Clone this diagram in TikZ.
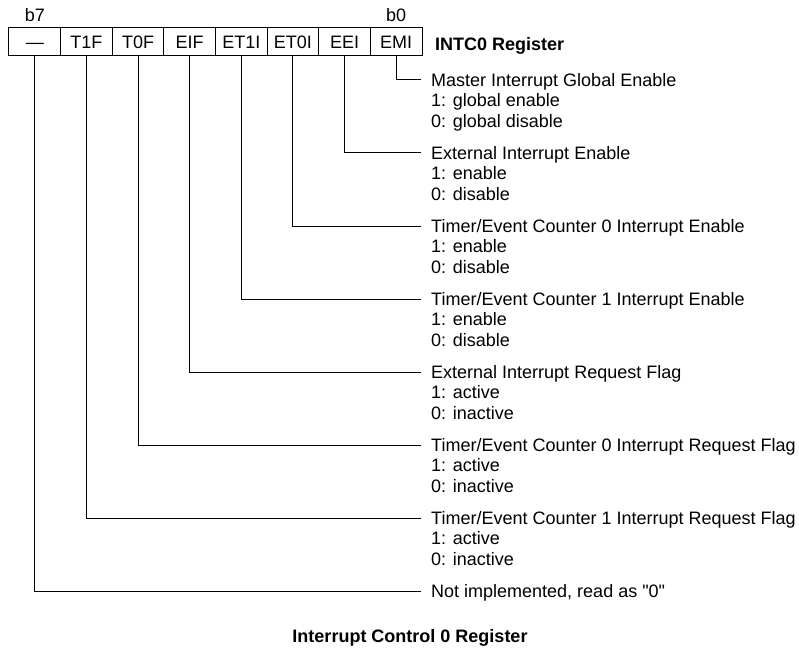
\documentclass[tikz,border=0pt]{standalone}
\usepackage{fontspec}
\setmainfont{Liberation Sans}[Ligatures=TeXOff]
\begin{document}
\begin{tikzpicture}[x=1pt,y=-1pt,
  every node/.style={font=\fontsize{18}{20.5}\selectfont, inner sep=0pt},
  boldtext/.style={font=\fontsize{18}{20.5}\selectfont\bfseries},
  bitbox/.style={draw, line width=1pt, minimum width=51.625pt, minimum height=28pt, text height=12.9pt, text depth=0pt},
  desc/.style={anchor=west, inner xsep=10pt, text height=12.9pt, text depth=0pt},
  val/.style={anchor=base west},
  conn/.style={line width=1pt}]
\useasboundingbox (0,0) rectangle (799,652);

% bit boxes
\node[bitbox] (bN)    at (34.81,42)  {—};
\node[bitbox] (bT1F)  at (86.44,42)  {T1F};
\node[bitbox] (bT0F)  at (138.06,42) {T0F};
\node[bitbox] (bEIF)  at (189.69,42) {EIF};
\node[bitbox] (bET1I) at (241.31,42) {ET1I};
\node[bitbox] (bET0I) at (292.94,42) {ET0I};
\node[bitbox] (bEEI)  at (344.56,42) {EEI};
\node[bitbox] (bEMI)  at (396.19,42) {EMI};

\node (lb7) at (34.81,15.5) {b7};
\node (lb0) at (396.19,15.5) {b0};
\node[boldtext, anchor=west, text height=12.9pt, text depth=0pt] (reg) at (435,44) {INTC0 Register};

% descriptions
\node[desc] (dEMI) at (421,80) {Master Interrupt Global Enable};
\node[val] (dEMIa) at (431,106.9) {1: global enable};
\node[val] (dEMIb) at (431,127.4) {0: global disable};

\node[desc] (dEEI) at (421,153) {External Interrupt Enable};
\node[val] (dEEIa) at (431,179.9) {1: enable};
\node[val] (dEEIb) at (431,200.4) {0: disable};

\node[desc] (dET0I) at (421,226) {Timer/Event Counter 0 Interrupt Enable};
\node[val] (dET0Ia) at (431,252.9) {1: enable};
\node[val] (dET0Ib) at (431,273.4) {0: disable};

\node[desc] (dET1I) at (421,299) {Timer/Event Counter 1 Interrupt Enable};
\node[val] (dET1Ia) at (431,325.9) {1: enable};
\node[val] (dET1Ib) at (431,346.4) {0: disable};

\node[desc] (dEIF) at (421,372) {External Interrupt Request Flag};
\node[val] (dEIFa) at (431,398.9) {1: active};
\node[val] (dEIFb) at (431,419.4) {0: inactive};

\node[desc] (dT0F) at (421,445) {Timer/Event Counter 0 Interrupt Request Flag};
\node[val] (dT0Fa) at (431,471.9) {1: active};
\node[val] (dT0Fb) at (431,492.4) {0: inactive};

\node[desc] (dT1F) at (421,518) {Timer/Event Counter 1 Interrupt Request Flag};
\node[val] (dT1Fa) at (431,544.9) {1: active};
\node[val] (dT1Fb) at (431,565.4) {0: inactive};

\node[desc] (dN) at (421,591) {Not implemented, read as "0"};

% connectors
\draw[conn] (bEMI.south)  |- (dEMI.west);
\draw[conn] (bEEI.south)  |- (dEEI.west);
\draw[conn] (bET0I.south) |- (dET0I.west);
\draw[conn] (bET1I.south) |- (dET1I.west);
\draw[conn] (bEIF.south)  |- (dEIF.west);
\draw[conn] (bT0F.south)  |- (dT0F.west);
\draw[conn] (bT1F.south)  |- (dT1F.west);
\draw[conn] (bN.south)    |- (dN.west);

\node[boldtext, text height=12.9pt, text depth=0pt] (title) at (410,636) {Interrupt Control 0 Register};
\end{tikzpicture}
\end{document}
